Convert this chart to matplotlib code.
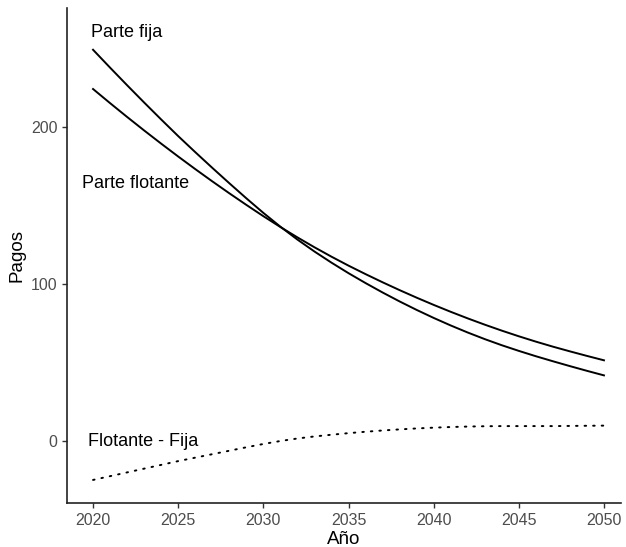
import matplotlib
matplotlib.use("Agg")
import matplotlib.pyplot as plt

plt.rcParams['font.family'] = ['Liberation Sans', 'DejaVu Sans']

years = list(range(2020, 2051))
parte_fija = [249.0, 237.6, 226.4, 215.4, 204.6, 194.0, 183.8, 173.8, 164.0, 154.4,
              145.1, 136.3, 128.1, 120.5, 113.4, 106.7, 100.4, 94.4, 88.7, 83.3,
              78.2, 73.4, 68.9, 64.7, 60.8, 57.2, 53.8, 50.6, 47.5, 44.5, 41.6]
parte_flotante = [224.0, 215.0, 206.2, 197.6, 189.2, 181.0, 173.0, 165.2, 157.6, 150.2,
                  143.0, 136.1, 129.5, 123.2, 117.2, 111.5, 106.1, 100.9, 95.9, 91.1,
                  86.5, 82.1, 77.9, 73.9, 70.1, 66.5, 63.1, 59.9, 56.9, 54.0, 51.2]
diferencia = [fl - fi for fl, fi in zip(parte_flotante, parte_fija)]

x_ticks = [2020, 2025, 2030, 2035, 2040, 2045, 2050]
y_ticks = [0, 100, 200]

fig = plt.figure(figsize=(6.26, 5.47), dpi=100)
ax = fig.add_axes([0.107, 0.0804, 0.885, 0.905])

ax.plot(years, parte_fija, color='black', lw=1.4)
ax.plot(years, parte_flotante, color='black', lw=1.4)
ax.plot(years, diferencia, color='black', lw=1.4, linestyle=(0, (0.8, 3.6)),
        dash_capstyle='round')

ax.text(2021.97, 259.7, 'Parte fija', ha='center', va='center', fontsize=13)
ax.text(2022.47, 164, 'Parte flotante', ha='center', va='center', fontsize=13)
ax.text(2022.97, -0.5, 'Flotante - Fija', ha='center', va='center', fontsize=13)

ax.set_xlim(2018.47, 2051.0)
ax.set_ylim(-39.7, 275.6)
ax.set_xticks(x_ticks)
ax.set_yticks(y_ticks)
ax.tick_params(axis='both', colors='#333333', labelcolor='#4D4D4D',
               labelsize=11.5, length=3.5, width=1.0)
for side in ['top', 'right']:
    ax.spines[side].set_visible(False)
for side in ['left', 'bottom']:
    ax.spines[side].set_color('#222222')
    ax.spines[side].set_linewidth(1.2)

ax.set_xlabel('Año', fontsize=13.5, labelpad=2)
ax.set_ylabel('Pagos', fontsize=13.5, labelpad=4)

fig.savefig('out.png', dpi=100)
